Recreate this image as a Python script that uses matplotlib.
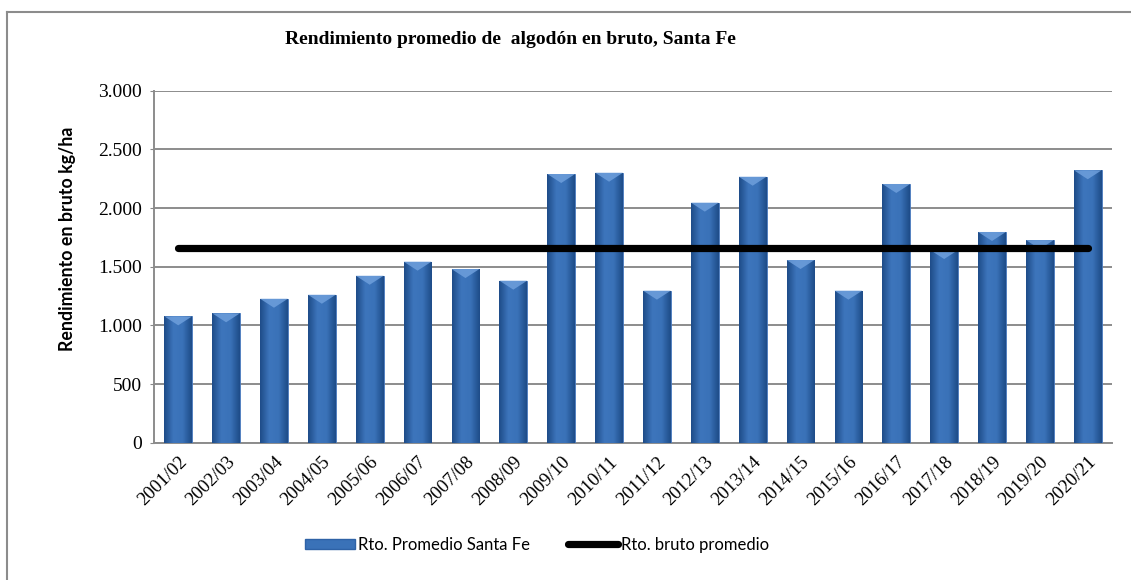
import matplotlib
matplotlib.use("Agg")
import matplotlib.pyplot as plt
import numpy as np
from matplotlib.patches import Patch, Polygon
from matplotlib.lines import Line2D
from matplotlib.colors import LinearSegmentedColormap
from matplotlib.font_manager import FontProperties

# ---- data ----
campaigns = ["2001/02", "2002/03", "2003/04", "2004/05", "2005/06", "2006/07",
             "2007/08", "2008/09", "2009/10", "2010/11", "2011/12", "2012/13",
             "2013/14", "2014/15", "2015/16", "2016/17", "2017/18", "2018/19",
             "2019/20", "2020/21"]
rto_santa_fe = [1077, 1103, 1227, 1261, 1423, 1543, 1480, 1381, 2290, 2301,
                1296, 2046, 2267, 1557, 1296, 2205, 1642, 1796, 1727, 2322]
rto_promedio = [1662] * len(campaigns)
yticks = [0, 500, 1000, 1500, 2000, 2500, 3000]
ytick_labels = ["0", "500", "1.000", "1.500", "2.000", "2.500", "3.000"]

title = "Rendimiento promedio de  algodón en bruto, Santa Fe"
ylabel = "Rendimiento en bruto kg/ha"
legend_labels = ["Rto. Promedio Santa Fe", "Rto. bruto promedio"]

serif = "Liberation Serif"
sans = "Lato"
fp_x = FontProperties(family=serif, size=13.5)
fp_y = FontProperties(family=serif, size=14)

W, H = 1131, 580
fig = plt.figure(figsize=(W / 100, H / 100), dpi=100)
ax = fig.add_axes([154.3 / W, 1 - 442.7 / H, (1111.7 - 154.3) / W, (442.7 - 90.7) / H])

x = np.arange(len(campaigns))
bars = ax.bar(x, rto_santa_fe, width=0.58, color="#2E62A6", edgecolor="#4A7BBE",
              linewidth=0.6, zorder=3)

# gradient fill for a bevel look
cmap = LinearSegmentedColormap.from_list("bev", ["#1E4C88", "#3D75BC", "#3A72B8", "#1E4C88"])
grad = np.linspace(0, 1, 64).reshape(1, -1)
ax.set_xlim(-0.5, len(campaigns) - 0.5)
ax.set_ylim(0, 3000)
px_per_unit = (442.7 - 90.7) / 3000.0
bevel_h = 9 / px_per_unit
for b in bars:
    x0, y0 = b.get_x(), b.get_y()
    w, h = b.get_width(), b.get_height()
    im = ax.imshow(grad, extent=[x0, x0 + w, y0, y0 + h], aspect="auto",
                   cmap=cmap, zorder=3.5, interpolation="bicubic")
    im.set_clip_path(b)
    tri = Polygon([[x0, y0 + h], [x0 + w, y0 + h], [x0 + w * 0.5, y0 + h - bevel_h]],
                  closed=True, facecolor="#6E9FDC", edgecolor="none", alpha=0.85, zorder=3.6)
    ax.add_patch(tri)
ax.set_aspect("auto")

ax.plot(x, rto_promedio, color="black", linewidth=5.2, solid_capstyle="round", zorder=5)

ax.set_yticks(yticks, labels=ytick_labels, fontproperties=fp_y)
ax.set_xticks(x, labels=campaigns, fontproperties=fp_x, rotation=45, ha="right",
              rotation_mode="anchor")
ax.tick_params(axis="x", length=0, pad=8)
ax.tick_params(axis="y", length=3, color="#888888", pad=6)

ax.grid(axis="y", color="#8C8C8C", linewidth=1.4, zorder=0)
ax.set_axisbelow(True)
for s in ["top", "right"]:
    ax.spines[s].set_visible(False)
for s in ["left", "bottom"]:
    ax.spines[s].set_color("#8C8C8C")
    ax.spines[s].set_linewidth(1.4)

fig.text(510 / W, 1 - 40 / H, title, ha="center", va="center", fontfamily=serif,
         fontweight="bold", fontsize=14)
fig.text(68 / W, 1 - 239 / H, ylabel, ha="center", va="center", rotation=90,
         fontfamily=sans, fontweight="bold", fontsize=12.8)

handles = [Patch(facecolor="#3A72B8", edgecolor="#2E62A6"),
           Line2D([0], [0], color="black", linewidth=5.2, solid_capstyle="round")]
fig.legend(handles, legend_labels, loc="center", bbox_to_anchor=(537 / W, 1 - 545 / H),
           ncol=2, frameon=False, prop={"family": sans, "size": 12},
           handlelength=3.0, handleheight=0.6, handletextpad=0.15, columnspacing=2.3)

# outer chart border (top and left visible)
fig.add_artist(Line2D([7 / W, 7 / W], [0, 1 - 11.7 / H], transform=fig.transFigure,
                      color="#8C8C8C", linewidth=1.5))
fig.add_artist(Line2D([7 / W, 1], [1 - 11.7 / H, 1 - 11.7 / H], transform=fig.transFigure,
                      color="#8C8C8C", linewidth=1.5))

fig.savefig("out.png", dpi=100)
